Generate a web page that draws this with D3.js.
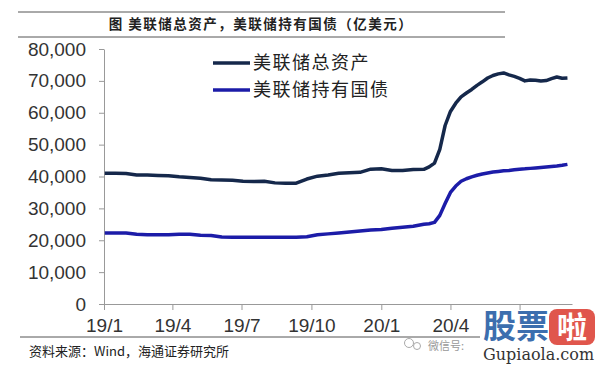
<!DOCTYPE html>
<html>
<head>
<meta charset="utf-8">
<script src="https://cdn.jsdelivr.net/npm/d3@7"></script>
<style>
  body { margin: 0; background: #fff; }
  svg { display: block; }
  text { font-family: "Liberation Sans", Arial, sans-serif; }
  .cjk { font-family: "Noto Sans CJK SC", sans-serif; }
</style>
</head>
<body>
<div id="chart"></div>
<script>
// weekly-ish observation dates
var dates = ["2019-01-02","2019-01-16","2019-01-30","2019-02-13","2019-02-27","2019-03-13","2019-03-27",
  "2019-04-10","2019-04-24","2019-05-08","2019-05-22","2019-06-05","2019-06-19","2019-07-03","2019-07-17",
  "2019-07-31","2019-08-14","2019-08-28","2019-09-11","2019-09-25","2019-10-09","2019-10-23","2019-11-06",
  "2019-11-20","2019-12-04","2019-12-18","2020-01-01","2020-01-15","2020-01-29","2020-02-12","2020-02-26",
  "2020-03-04","2020-03-11","2020-03-18","2020-03-25","2020-04-01","2020-04-08","2020-04-15","2020-04-22",
  "2020-04-29","2020-05-06","2020-05-13","2020-05-20","2020-05-27","2020-06-03","2020-06-10","2020-06-17",
  "2020-06-24","2020-07-01","2020-07-08","2020-07-15","2020-07-22","2020-07-29","2020-08-05","2020-08-12",
  "2020-08-19","2020-08-26","2020-09-02"];

// 美联储总资产 (亿美元)
var totalAssets = [41000,41000,40950,40500,40450,40300,40200,
  39900,39700,39450,38950,38900,38850,38500,38400,
  38500,38000,37870,37900,39200,40100,40470,41000,
  41200,41300,42300,42400,41900,41850,42200,42250,
  43000,44200,48500,56000,60400,63000,65000,66200,
  67300,68600,69700,70900,71700,72200,72500,71900,
  71400,70800,70000,70300,70200,69950,70100,70700,
  71200,70800,70900];

// 美联储持有国债 (亿美元)
var treasuries = [22270,22270,22250,21900,21750,21750,21700,
  21900,21900,21550,21500,21000,20950,20950,20950,
  20950,20950,20950,20950,21100,21700,22000,22300,
  22600,22900,23200,23400,23800,24100,24400,25000,
  25200,25600,27800,31500,35000,37000,38500,39300,
  39900,40400,40800,41100,41400,41600,41800,41900,
  42100,42300,42400,42550,42700,42850,43000,43150,
  43300,43500,43800];

var yTicks = [0,10000,20000,30000,40000,50000,60000,70000,80000];
var xTickDates = ["2019-01-01","2019-04-01","2019-07-01","2019-10-01","2020-01-01","2020-04-01","2020-07-01"];
var xTickLabels = ["19/1","19/4","19/7","19/10","20/1","20/4",""];
var seriesNames = ["美联储总资产","美联储持有国债"];
var seriesColors = ["#15284b","#1c1ca8"];

var W = 600, H = 366;
var parse = d3.timeParse("%Y-%m-%d");

var svg = d3.select("#chart").append("svg")
  .attr("width", W).attr("height", H);

var x = d3.scaleTime()
  .domain([parse("2019-01-01"), parse("2020-09-08")])
  .range([104, 572]);
var y = d3.scaleLinear()
  .domain([0, 80000])
  .range([304, 49]);

// title with rules above and below
svg.append("line").attr("x1", 18).attr("x2", 505).attr("y1", 12).attr("y2", 12)
  .style("stroke", "#555").style("stroke-width", 1);
svg.append("line").attr("x1", 18).attr("x2", 505).attr("y1", 37).attr("y2", 37)
  .style("stroke", "#555").style("stroke-width", 1);
svg.append("text")
  .attr("class", "cjk")
  .attr("x", 261).attr("y", 29)
  .attr("text-anchor", "middle")
  .style("font-size", "13.5px").style("font-weight", "bold").style("fill", "#222")
  .style("letter-spacing", "1.5px")
  .text("图  美联储总资产，美联储持有国债（亿美元）");

// Y axis
var yAxis = svg.append("g")
  .attr("transform", "translate(104,0)")
  .call(d3.axisLeft(y).tickValues(yTicks).tickSize(5).tickSizeOuter(0)
    .tickFormat(d3.format(",")));
yAxis.selectAll("text").style("font-size", "19px").style("fill", "#333")
  .attr("x", -18);
yAxis.selectAll("line, path").style("stroke", "#999");

// X axis
var xAxis = svg.append("g")
  .attr("transform", "translate(0,304)")
  .call(d3.axisBottom(x).tickValues(xTickDates.map(parse)).tickSize(6).tickSizeOuter(0)
    .tickFormat(function(d, i) { return xTickLabels[i]; }));
xAxis.selectAll("text").style("font-size", "19px").style("fill", "#333")
  .attr("y", 15);
xAxis.selectAll("line, path").style("stroke", "#999");

// lines
var line = d3.line()
  .x(function(d, i) { return x(parse(dates[i])); })
  .y(function(d) { return y(d); });

[totalAssets, treasuries].forEach(function(s, k) {
  svg.append("path")
    .attr("fill", "none")
    .attr("stroke", seriesColors[k])
    .attr("stroke-width", 3.5)
    .attr("stroke-linejoin", "round")
    .attr("d", line(s));
});

// legend
seriesNames.forEach(function(name, k) {
  var ly = 63 + k * 27;
  svg.append("line").attr("x1", 213).attr("x2", 250).attr("y1", ly).attr("y2", ly)
    .style("stroke", seriesColors[k]).style("stroke-width", 3.5);
  svg.append("text").attr("class", "cjk")
    .attr("x", 253).attr("y", ly).attr("dy", "0.36em")
    .style("font-size", "18px").style("letter-spacing", "1.5px").style("fill", "#222")
    .text(name);
});

// source
svg.append("line").attr("x1", 20).attr("x2", 480).attr("y1", 337).attr("y2", 337)
  .style("stroke", "#555").style("stroke-width", 1);
svg.append("text").attr("class", "cjk")
  .attr("x", 29).attr("y", 351).attr("dy", "0.36em")
  .style("font-size", "13px").style("fill", "#222")
  .text("资料来源：Wind，海通证券研究所");

// watermark
var wm = svg.append("g");
wm.append("circle").attr("cx", 409).attr("cy", 343).attr("r", 4.5)
  .style("fill", "none").style("stroke", "#aaa").style("stroke-width", 1);
wm.append("circle").attr("cx", 417).attr("cy", 346).attr("r", 3.5)
  .style("fill", "none").style("stroke", "#aaa").style("stroke-width", 1);
wm.append("text").attr("class", "cjk")
  .attr("x", 428).attr("y", 346).attr("dy", "0.36em")
  .style("font-size", "11px").style("fill", "#999")
  .text("微信号:");
wm.append("text").attr("class", "cjk")
  .attr("x", 483).attr("y", 326).attr("dy", "0.36em")
  .style("font-size", "33px").style("font-weight", "bold").style("fill", "#3c6eae")
  .text("股票");
wm.append("rect").attr("x", 549).attr("y", 309).attr("width", 46).attr("height", 36)
  .attr("rx", 8).style("fill", "#e0564c");
wm.append("text").attr("class", "cjk")
  .attr("x", 572).attr("y", 327).attr("dy", "0.36em").attr("text-anchor", "middle")
  .style("font-size", "30px").style("font-weight", "bold").style("fill", "#fff")
  .text("啦");
wm.append("text")
  .attr("x", 483).attr("y", 360)
  .style("font-family", "'DejaVu Serif', 'Liberation Serif', serif")
  .style("font-size", "16px").style("fill", "#333")
  .text("Gupiaola.com");
</script>
</body>
</html>
